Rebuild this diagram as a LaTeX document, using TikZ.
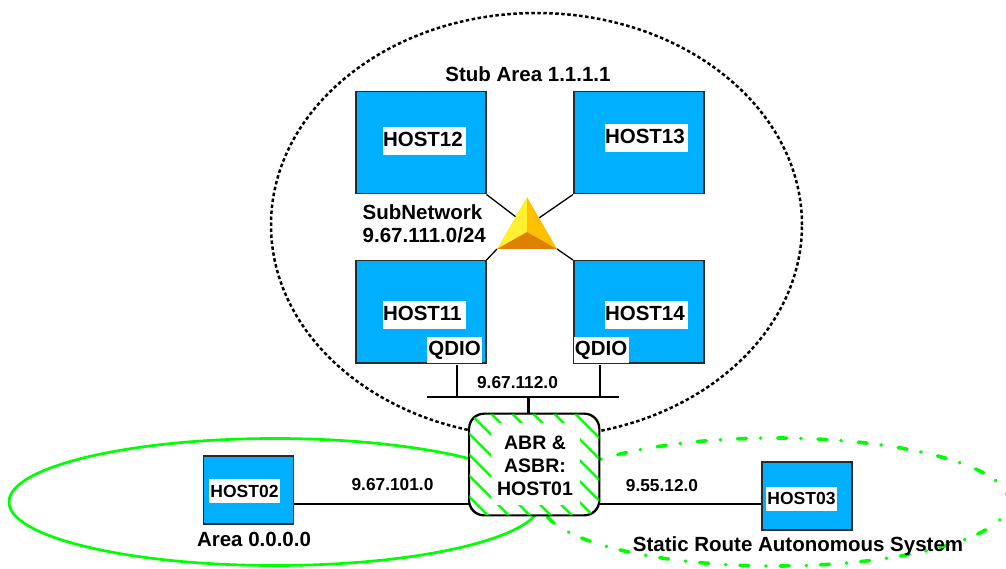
\documentclass[tikz,border=0pt]{standalone}
\usepackage{fontspec}
\setmainfont{Liberation Sans}
\usetikzlibrary{shapes.geometric}
\definecolor{hostblue}{HTML}{00B0FF}
\definecolor{grn}{HTML}{00FF00}
\definecolor{framegrey}{HTML}{2A2A2A}
\tikzset{
  hostbox/.style={draw=framegrey,line width=1.5pt,fill=hostblue,minimum width=#1,inner sep=0pt,anchor=north west},
  lbl/.style={font=\bfseries\fontsize{20.5}{24}\selectfont,text=black,inner sep=0pt},
  iplbl/.style={font=\bfseries\fontsize{17.3}{21}\selectfont,text=black,inner sep=0pt},
  hostlbl/.style={font=\bfseries\fontsize{20.5}{24}\selectfont,fill=white,inner xsep=0pt,inner ysep=4.15pt,text height=15.7pt,text depth=4pt,text width=83pt,align=left,text=black},
  qdiolbl/.style={font=\bfseries\fontsize{20.5}{24}\selectfont,fill=white,inner sep=0pt,minimum height=26pt,minimum width=55pt,text=black},
  smallhost/.style={font=\bfseries\fontsize{17.5}{21}\selectfont,fill=white,inner sep=0pt,minimum height=24pt,minimum width=71pt,text=black},
  wire/.style={black,line width=1.3pt},
  bus/.style={black,line width=2.4pt},
  hatch/.style={grn,line width=2.2pt},
  zone/.style={ellipse,inner sep=0pt,outer sep=0pt}
}
\begin{document}
\begin{tikzpicture}[x=1pt,y=-1pt]
\useasboundingbox (0,0) rectangle (1006,569);
\clip (0,0) rectangle (1006,569);
% zones
\node[zone,draw=black,line width=2.5pt,dash pattern=on 3.5pt off 2.5pt,minimum width=531pt,minimum height=424pt] (stub) at (536.5,225) {};
\node[zone,draw=grn,line width=2.7pt,minimum width=532pt,minimum height=127pt] (bb) at (275,502) {};
\node[zone,draw=grn,line width=3.6pt,line cap=round,dash pattern=on 9pt off 17pt on 0.3pt off 14pt,minimum width=468pt,minimum height=128pt] (sr) at (775,502) {};
% hosts
\node[hostbox=130pt,minimum height=102pt] (h12) at (355,91) {};
\node[hostbox=130pt,minimum height=102pt] (h13) at (573,91) {};
\node[hostbox=130pt,minimum height=102pt] (h11) at (355,260) {};
\node[hostbox=130pt,minimum height=102pt] (h14) at (573,260) {};
\node[hostbox=90pt,minimum height=68pt] (h02) at (202.7,455) {};
\node[hostbox=90pt,minimum height=68pt] (h03) at (761,461) {};
% triangle anchors
\coordinate (tl) at (516,217);
\coordinate (tr) at (539,218);
\coordinate (bl) at (497,249);
\coordinate (br) at (557,249);
\coordinate (apex) at (527,197);
\coordinate (mid) at (527,232);
\draw[wire] (h12.south east) -- (tl);
\draw[wire] (h13.south west) -- (tr);
\draw[wire] (h11.north east) -- (bl);
\draw[wire] (h14.north west) -- (br);
\fill[color={rgb,255:red,255;green,240;blue,48}] (apex) -- (mid) -- (bl) -- cycle;
\fill[color={rgb,255:red,255;green,192;blue,0}] (apex) -- (mid) -- (br) -- cycle;
\fill[color={rgb,255:red,224;green,128;blue,0}] (bl) -- (mid) -- (br) -- cycle;
% host labels
\node[hostlbl] (l12) at (424.5,141) {HOST12};
\node[hostlbl] (l13) at (646.5,138) {HOST13};
\node[hostlbl] (l11) at (424.5,315) {HOST11};
\node[hostlbl] (l14) at (646.5,315) {HOST14};
\node[qdiolbl] (q1) at (454.5,350) {QDIO};
\node[qdiolbl] (q2) at (601,350) {QDIO};
\node[smallhost] (l02) at (244.5,491) {HOST02};
\node[smallhost] (l03) at (801.5,498.5) {HOST03};
% central router
\node[draw=black,line width=1.4pt,rounded corners=15pt,fill=white,minimum width=129.5pt,minimum height=101pt,inner sep=0pt] (abr) at (534.2,464.5) {};
\begin{scope}
\clip[rounded corners=15pt] (abr.south west) rectangle (abr.north east);
\foreach \c in {161.5,140.5,119.5,98.5,77.5,56.5,35.5,14.5,-6.5,-27.5}
  \draw[hatch] (\c+400,400) -- (\c+530,530);
\end{scope}
\node[fill=white,minimum width=89pt,minimum height=82pt,inner sep=0pt] (abrbg) at (535.5,464) {};
\draw[black,line width=1.4pt,rounded corners=15pt] (abr.south west) rectangle (abr.north east);
\node[font=\bfseries\fontsize{19.5}{23.3}\selectfont,align=center,inner sep=0pt] (abrt) at (535,466) {ABR \&\\ASBR:\\HOST01};
% bus
\coordinate (busl) at (427,397);
\coordinate (busr) at (619,397);
\coordinate (t1) at (457,397);
\coordinate (t2) at (599.7,397);
\coordinate (t3) at (528.5,397);
\coordinate (d1) at (457,365);
\coordinate (d2) at (599.7,365);
\draw[bus] (busl) -- (busr);
\draw[bus] (d1) -- (t1);
\draw[bus] (d2) -- (t2);
\draw[bus] (t3) -- (t3 |- abr.north);
% links
\draw[wire] (h02.east |- 0,504) -- (abr.west |- 0,504);
\draw[wire] (abr.east |- 0,504) -- (h03.west |- 0,504);
% texts
\node[iplbl] (t112) at (517.5,383) {9.67.112.0};
\node[iplbl] (t101) at (392.5,485) {9.67.101.0};
\node[iplbl] (t55) at (662,486) {9.55.12.0};
\node[lbl] (tstub) at (528,74) {Stub Area 1.1.1.1};
\node[lbl] (tarea) at (254,539) {Area 0.0.0.0};
\node[lbl] (tstat) at (798,546) {Static Route Autonomous System};
\node[lbl,align=left,anchor=north west,font=\bfseries\fontsize{20.5}{23.7}\selectfont] (tsub) at (362.5,204) {SubNetwork\\9.67.111.0/24};
\end{tikzpicture}
\end{document}
